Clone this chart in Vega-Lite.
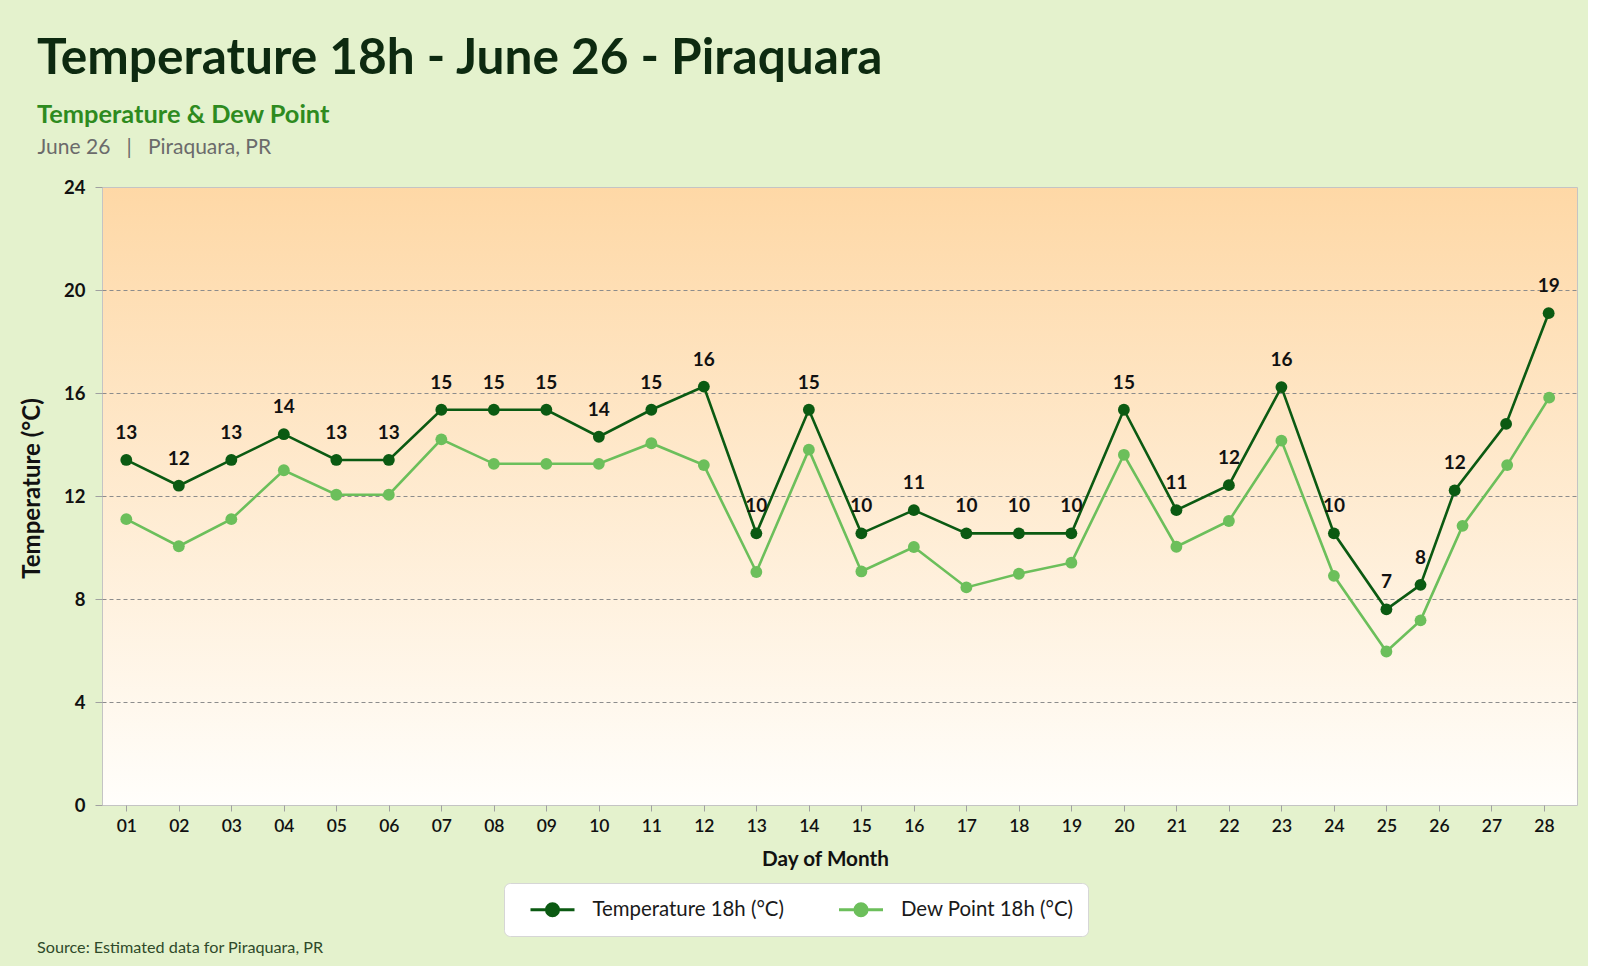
{
  "$schema": "https://vega.github.io/schema/vega-lite/v6.json",
  "background": "#e4f2cd",
  "padding": {"left": 20, "top": 33, "right": 10, "bottom": 10},
  "config": {
    "font": "Lato",
    "view": {"stroke": "#c4c4c4"},
    "axis": {
      "labelFontSize": 18,
      "labelColor": "#111111",
      "titleFontWeight": "bold",
      "titleColor": "#111111",
      "tickColor": "#a0a0a0",
      "domain": false
    }
  },
  "title": {
    "text": "Source: Estimated data for Piraquara, PR",
    "orient": "bottom",
    "anchor": "start",
    "fontSize": 16.2,
    "fontWeight": "normal",
    "color": "#2f4a2a",
    "offset": 3,
    "dx": 17
  },
  "vconcat": [
    {
      "title": {
        "text": "Temperature 18h - June 26 - Piraquara",
        "subtitle": "Temperature & Dew Point",
        "anchor": "start",
        "fontSize": 49.6,
        "fontWeight": "bold",
        "color": "#0d2a10",
        "subtitleFontSize": 25.4,
        "subtitleFontWeight": "bold",
        "subtitleColor": "#2e8b1f",
        "subtitlePadding": 19,
        "offset": 7,
        "dx": 17
      },
      "vconcat": [
        {
          "title": {
            "text": "June 26\u00a0\u00a0\u00a0|\u00a0\u00a0\u00a0Piraquara, PR",
            "anchor": "start",
            "fontSize": 21,
            "fontWeight": "normal",
            "color": "#6b6b6b",
            "offset": 20,
            "dx": 17
          },
          "width": 1475,
          "height": 618,
          "view": {
            "stroke": "#c4c4c4",
            "fill": {
              "gradient": "linear",
              "x1": 0, "y1": 0, "x2": 0, "y2": 1,
              "stops": [
                {"offset": 0, "color": "#fed8a6"},
                {"offset": 1, "color": "#fffefb"}
              ]
            }
          },
          "data": {
            "values": [
              {"day": 1, "series": "Temperature 18h (°C)", "value": 13.4, "label": "13"},
              {"day": 2, "series": "Temperature 18h (°C)", "value": 12.4, "label": "12"},
              {"day": 3, "series": "Temperature 18h (°C)", "value": 13.4, "label": "13"},
              {"day": 4, "series": "Temperature 18h (°C)", "value": 14.4, "label": "14"},
              {"day": 5, "series": "Temperature 18h (°C)", "value": 13.4, "label": "13"},
              {"day": 6, "series": "Temperature 18h (°C)", "value": 13.4, "label": "13"},
              {"day": 7, "series": "Temperature 18h (°C)", "value": 15.35, "label": "15"},
              {"day": 8, "series": "Temperature 18h (°C)", "value": 15.35, "label": "15"},
              {"day": 9, "series": "Temperature 18h (°C)", "value": 15.35, "label": "15"},
              {"day": 10, "series": "Temperature 18h (°C)", "value": 14.3, "label": "14"},
              {"day": 11, "series": "Temperature 18h (°C)", "value": 15.35, "label": "15"},
              {"day": 12, "series": "Temperature 18h (°C)", "value": 16.25, "label": "16"},
              {"day": 13, "series": "Temperature 18h (°C)", "value": 10.55, "label": "10"},
              {"day": 14, "series": "Temperature 18h (°C)", "value": 15.35, "label": "15"},
              {"day": 15, "series": "Temperature 18h (°C)", "value": 10.55, "label": "10"},
              {"day": 16, "series": "Temperature 18h (°C)", "value": 11.45, "label": "11"},
              {"day": 17, "series": "Temperature 18h (°C)", "value": 10.55, "label": "10"},
              {"day": 18, "series": "Temperature 18h (°C)", "value": 10.55, "label": "10"},
              {"day": 19, "series": "Temperature 18h (°C)", "value": 10.55, "label": "10"},
              {"day": 20, "series": "Temperature 18h (°C)", "value": 15.35, "label": "15"},
              {"day": 21, "series": "Temperature 18h (°C)", "value": 11.45, "label": "11"},
              {"day": 22, "series": "Temperature 18h (°C)", "value": 12.42, "label": "12"},
              {"day": 23, "series": "Temperature 18h (°C)", "value": 16.23, "label": "16"},
              {"day": 24, "series": "Temperature 18h (°C)", "value": 10.55, "label": "10"},
              {"day": 25, "series": "Temperature 18h (°C)", "value": 7.6, "label": "7"},
              {"day": 25.65, "series": "Temperature 18h (°C)", "value": 8.55, "label": "8"},
              {"day": 26.3, "series": "Temperature 18h (°C)", "value": 12.22, "label": "12"},
              {"day": 27.28, "series": "Temperature 18h (°C)", "value": 14.8, "label": null},
              {"day": 28.09, "series": "Temperature 18h (°C)", "value": 19.1, "label": "19"},
              {"day": 1, "series": "Dew Point 18h (°C)", "value": 11.1, "label": null},
              {"day": 2, "series": "Dew Point 18h (°C)", "value": 10.05, "label": null},
              {"day": 3, "series": "Dew Point 18h (°C)", "value": 11.1, "label": null},
              {"day": 4, "series": "Dew Point 18h (°C)", "value": 13.0, "label": null},
              {"day": 5, "series": "Dew Point 18h (°C)", "value": 12.05, "label": null},
              {"day": 6, "series": "Dew Point 18h (°C)", "value": 12.05, "label": null},
              {"day": 7, "series": "Dew Point 18h (°C)", "value": 14.2, "label": null},
              {"day": 8, "series": "Dew Point 18h (°C)", "value": 13.25, "label": null},
              {"day": 9, "series": "Dew Point 18h (°C)", "value": 13.25, "label": null},
              {"day": 10, "series": "Dew Point 18h (°C)", "value": 13.25, "label": null},
              {"day": 11, "series": "Dew Point 18h (°C)", "value": 14.05, "label": null},
              {"day": 12, "series": "Dew Point 18h (°C)", "value": 13.2, "label": null},
              {"day": 13, "series": "Dew Point 18h (°C)", "value": 9.05, "label": null},
              {"day": 14, "series": "Dew Point 18h (°C)", "value": 13.8, "label": null},
              {"day": 15, "series": "Dew Point 18h (°C)", "value": 9.07, "label": null},
              {"day": 16, "series": "Dew Point 18h (°C)", "value": 10.02, "label": null},
              {"day": 17, "series": "Dew Point 18h (°C)", "value": 8.45, "label": null},
              {"day": 18, "series": "Dew Point 18h (°C)", "value": 8.98, "label": null},
              {"day": 19, "series": "Dew Point 18h (°C)", "value": 9.41, "label": null},
              {"day": 20, "series": "Dew Point 18h (°C)", "value": 13.6, "label": null},
              {"day": 21, "series": "Dew Point 18h (°C)", "value": 10.03, "label": null},
              {"day": 22, "series": "Dew Point 18h (°C)", "value": 11.03, "label": null},
              {"day": 23, "series": "Dew Point 18h (°C)", "value": 14.15, "label": null},
              {"day": 24, "series": "Dew Point 18h (°C)", "value": 8.9, "label": null},
              {"day": 25, "series": "Dew Point 18h (°C)", "value": 5.96, "label": null},
              {"day": 25.65, "series": "Dew Point 18h (°C)", "value": 7.17, "label": null},
              {"day": 26.45, "series": "Dew Point 18h (°C)", "value": 10.84, "label": null},
              {"day": 27.3, "series": "Dew Point 18h (°C)", "value": 13.2, "label": null},
              {"day": 28.1, "series": "Dew Point 18h (°C)", "value": 15.82, "label": null}
            ]
          },
          "encoding": {
            "x": {
              "field": "day",
              "type": "quantitative",
              "scale": {"domain": [0.537, 28.63], "nice": false, "zero": false},
              "axis": {
                "title": "Day of Month",
                "titleFontSize": 20.7,
                "titleX": 723,
                "grid": false,
                "values": [1, 2, 3, 4, 5, 6, 7, 8, 9, 10, 11, 12, 13, 14, 15, 16, 17, 18, 19, 20, 21, 22, 23, 24, 25, 26, 27, 28],
                "labelExpr": "datum.value < 10 ? '0' + datum.value : '' + datum.value",
                "labelFontSize": 17.5,
                "labelFontWeight": 600,
                "tickSize": 6,
                "labelPadding": 6,
                "titlePadding": 15
              }
            },
            "y": {
              "field": "value",
              "type": "quantitative",
              "scale": {"domain": [0, 24], "nice": false},
              "axis": {
                "title": "Temperature (°C)",
                "titleFontSize": 24,
                "titleY": 301,
                "values": [0, 4, 8, 12, 16, 20, 24],
                "labelFontSize": 18.5,
                "labelFontWeight": "bold",
                "tickSize": 7,
                "labelPadding": 10,
                "titlePadding": 19,
                "grid": true,
                "gridDash": [4, 3],
                "gridColor": "#8c8c8c",
                "gridOpacity": {"condition": {"test": "datum.value === 0 || datum.value === 24", "value": 0}, "value": 1}
              }
            }
          },
          "layer": [
            {
              "mark": {"type": "line", "strokeWidth": 2.6, "point": {"filled": true, "size": 140, "opacity": 1}},
              "encoding": {
                "color": {
                  "field": "series",
                  "type": "nominal",
                  "scale": {
                    "domain": ["Temperature 18h (°C)", "Dew Point 18h (°C)"],
                    "range": ["#0b5a12", "#6cbf5b"]
                  },
                  "legend": {
                    "title": null,
                    "orient": "none",
                    "direction": "horizontal",
                    "legendX": 402,
                    "legendY": 696,
                    "fillColor": "#ffffff",
                    "strokeColor": "#d6d6d6",
                    "cornerRadius": 6,
                    "padding": 14,
                    "labelFontSize": 20.4,
                    "labelColor": "#1a1a1a",
                    "labelLimit": 0,
                    "labelOffset": 27.5,
                    "columnPadding": 42.5,
                    "labelExpr": "indexof(datum.label, 'Dew') === 0 ? datum.label + '\u2003\u2003' : datum.label",
                    "symbolOffset": 22,
                    "symbolType": "M-2,0H-0.55M0.55,0H2M-0.55,0A0.55,0.55,0,1,0,0.55,0A0.55,0.55,0,1,0,-0.55,0Z",
                    "symbolSize": 484,
                    "symbolStrokeWidth": 3,
                    "encode": {
                      "symbols": {
                        "update": {
                          "fill": {"scale": "color", "field": "value"},
                          "stroke": {"scale": "color", "field": "value"},
                          "opacity": {"value": 1}
                        }
                      }
                    }
                  }
                }
              }
            },
            {
              "transform": [{"filter": "datum.label != null"}],
              "mark": {"type": "text", "fontSize": 19, "fontWeight": "bold", "color": "#111111", "baseline": "middle", "dy": -27},
              "encoding": {"text": {"field": "label", "type": "nominal"}}
            }
          ]
        }
      ]
    }
  ]
}
